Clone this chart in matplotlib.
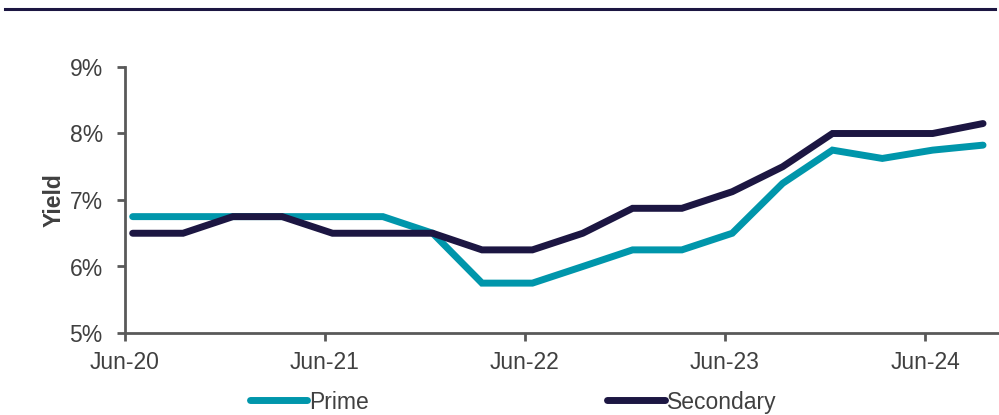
import matplotlib
matplotlib.use("Agg")
import matplotlib.pyplot as plt
import matplotlib.dates as mdates
from matplotlib.lines import Line2D
from datetime import date

# Quarterly yields, Jun-20 to Sep-24 (%)
quarters = ["2020-06", "2020-09", "2020-12", "2021-03", "2021-06", "2021-09",
            "2021-12", "2022-03", "2022-06", "2022-09", "2022-12", "2023-03",
            "2023-06", "2023-09", "2023-12", "2024-03", "2024-06", "2024-09"]
prime = [6.75, 6.75, 6.75, 6.75, 6.75, 6.75, 6.5, 5.75, 5.75, 6.0, 6.25, 6.25,
         6.5, 7.25, 7.75, 7.625, 7.75, 7.825]
secondary = [6.5, 6.5, 6.75, 6.75, 6.5, 6.5, 6.5, 6.25, 6.25, 6.5, 6.875, 6.875,
             7.125, 7.5, 8.0, 8.0, 8.0, 8.15]
tick_years = [2020, 2021, 2022, 2023, 2024]
tick_labels = ["Jun-20", "Jun-21", "Jun-22", "Jun-23", "Jun-24"]
y_ticks = [5, 6, 7, 8, 9]

TEAL = "#0096AB"
NAVY = "#1C1642"
AXIS = "#595959"
TEXT = "#404040"

plt.rcParams["font.family"] = ["Liberation Sans", "DejaVu Sans"]

W, H = 999, 415
fig = plt.figure(figsize=(W / 100, H / 100), dpi=100)
ax = fig.add_axes([125 / W, 1 - 333 / H, (999 - 125) / W, (333 - 67) / H])

dates = [date(int(q[:4]), int(q[5:]), 15) for q in quarters]

ax.plot(dates, prime, color=TEAL, lw=5, solid_capstyle="round",
        solid_joinstyle="miter", label="Prime", zorder=2)
ax.plot(dates, secondary, color=NAVY, lw=5, solid_capstyle="round",
        solid_joinstyle="miter", label="Secondary", zorder=3)

x0 = mdates.date2num(date(2020, 6, 1))
px_per_day = 200 / 365.25
ax.set_xlim(x0, x0 + (999 - 125) / px_per_day)
ax.set_ylim(5, 9)

ax.set_xticks([date(y, 6, 1) for y in tick_years])
ax.set_xticklabels(tick_labels)
ax.set_yticks(y_ticks)
ax.set_yticklabels([f"{v}%" for v in y_ticks])

for s in ["top", "right"]:
    ax.spines[s].set_visible(False)
for s in ["left", "bottom"]:
    ax.spines[s].set_color(AXIS)
    ax.spines[s].set_linewidth(2)

ax.tick_params(axis="both", colors=AXIS, width=2, length=6, direction="out",
               labelsize=16.5, labelcolor=TEXT)
ax.tick_params(axis="x", pad=7)
ax.tick_params(axis="y", pad=10)

ax.set_ylabel("Yield", fontsize=16.5, fontweight="bold", color=TEXT, labelpad=3)

# Rule across the top of the figure
fig.add_artist(Line2D([5 / W, 995 / W], [1 - 9 / H, 1 - 9 / H],
                      transform=fig.transFigure, color=NAVY, lw=2.2))

handles = [Line2D([], [], color=TEAL, lw=5, solid_capstyle="round"),
           Line2D([], [], color=NAVY, lw=5, solid_capstyle="round")]
fig.legend(handles, ["Prime", "Secondary"], loc="center",
           bbox_to_anchor=(513 / W, 1 - 402 / H), ncol=2, frameon=False,
           fontsize=16.5, handlelength=2.5, handletextpad=0.1,
           columnspacing=10.4, borderpad=0, labelcolor=TEXT)

fig.savefig("out.png", dpi=100)
